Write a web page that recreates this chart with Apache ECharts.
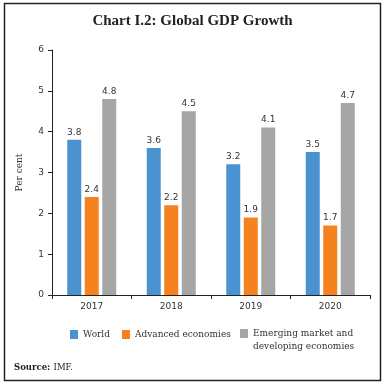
<!DOCTYPE html>
<html><head><meta charset="utf-8">
<script src="https://cdn.jsdelivr.net/npm/echarts@6/dist/echarts.min.js"></script>
<style>html,body{margin:0;padding:0;background:#fff}#c{width:385px;height:384px}</style>
</head><body><div id="c"></div>
<script>
const categories = ['2017', '2018', '2019', '2020'];
const world = [3.8, 3.6, 3.2, 3.5];
const advanced = [2.4, 2.2, 1.9, 1.7];
const emerging = [4.8, 4.5, 4.1, 4.7];
const seriesNames = ['World', 'Advanced economies', 'Emerging market and\ndeveloping economies'];
const colors = ['#4a93d0', '#f5821f', '#a6a6a6'];

const chart = echarts.init(document.getElementById('c'), null, {renderer: 'canvas'});
const labelStyle = {show: true, position: 'top', distance: 3, fontSize: 9, color: '#333', fontFamily: 'DejaVu Sans', formatter: p => p.value.toFixed(1)};
function mkLegend(name, left, multi) {
  return {data: [name], left: left, top: multi ? 314 : 328, padding: 0, itemWidth: 8, itemHeight: 9, icon: 'rect',
    formatter: multi ? (n => ' \n' + n) : (n => n),
    textStyle: {fontFamily: 'DejaVu Serif', fontSize: 9, color: '#333', lineHeight: 13},
    selectedMode: false, align: 'left'};
}
chart.setOption({
  animation: false,
  title: {text: 'Chart I.2: Global GDP Growth', left: 'center', top: 14, padding: 0, textStyle: {fontFamily: 'Liberation Serif', fontWeight: 'bold', fontSize: 15, color: '#222'}},
  grid: {left: 52, right: 15, top: 50, bottom: 89},
  legend: [mkLegend(seriesNames[0], 70, false), mkLegend(seriesNames[1], 122, false), mkLegend(seriesNames[2], 240, true)],
  xAxis: {type: 'category', data: categories,
    axisLine: {lineStyle: {color: '#222'}}, axisTick: {show: true, length: 4, lineStyle: {color: '#222'}},
    axisLabel: {color: '#333', fontSize: 9, fontFamily: 'DejaVu Sans', margin: 7}},
  yAxis: {type: 'value', min: 0, max: 6, interval: 1, name: 'Per cent', nameLocation: 'middle', nameGap: 28,
    nameTextStyle: {fontFamily: 'DejaVu Serif', fontSize: 9, color: '#333'},
    axisLine: {show: true, lineStyle: {color: '#222'}}, axisTick: {show: true, length: 4, lineStyle: {color: '#222'}},
    splitLine: {show: false}, axisLabel: {color: '#333', fontSize: 9, fontFamily: 'DejaVu Sans', margin: 8}},
  series: [
    {name: seriesNames[0], type: 'bar', data: world, itemStyle: {color: colors[0]}, barWidth: 14, barGap: '25%', label: labelStyle},
    {name: seriesNames[1], type: 'bar', data: advanced, itemStyle: {color: colors[1]}, barWidth: 14, barGap: '25%', label: labelStyle},
    {name: seriesNames[2], type: 'bar', data: emerging, itemStyle: {color: colors[2]}, barWidth: 14, barGap: '25%', label: labelStyle}
  ],
  graphic: [
    {type: 'rect', shape: {x: 4.5, y: 3.5, width: 376, height: 377}, style: {fill: 'none', stroke: '#222', lineWidth: 1.5}, silent: true},
    {type: 'text', left: 14, top: 362, style: {rich: {b: {fontFamily: 'DejaVu Serif', fontWeight: 'bold', fontSize: 8.5, fill: '#222'}, n: {fontFamily: 'DejaVu Serif', fontSize: 8.5, fill: '#222'}}, text: '{b|Source:} {n|IMF.}'}}
  ]
});
</script></body></html>
